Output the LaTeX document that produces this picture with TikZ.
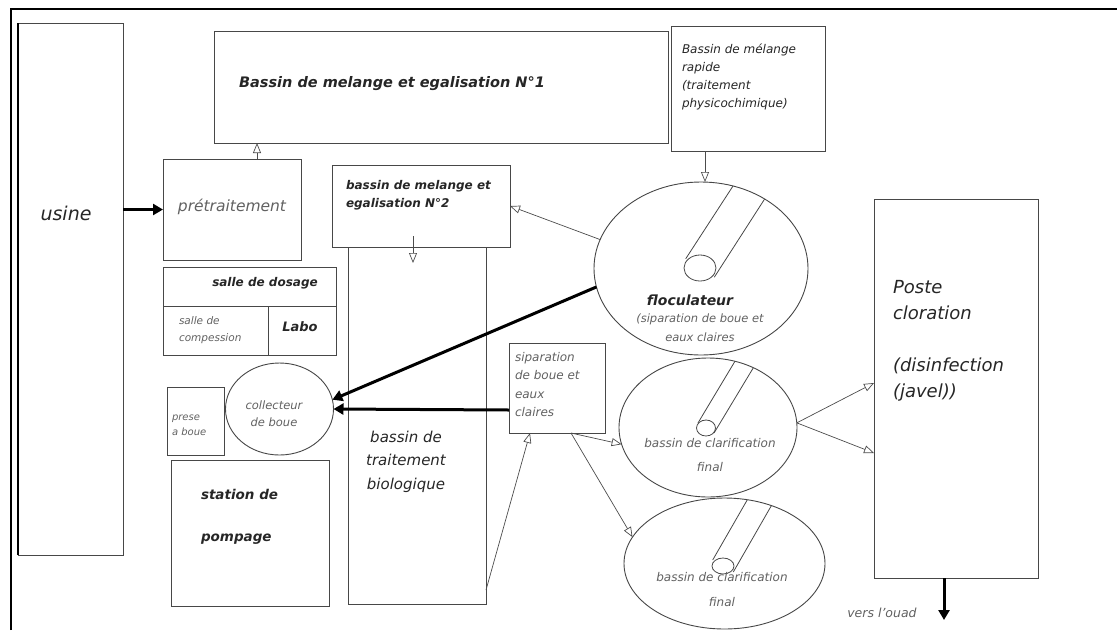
\documentclass[tikz,border=0pt]{standalone}
\usepackage{fontspec}
\setmainfont{DejaVu Sans}
\usetikzlibrary{arrows.meta,shapes.geometric,calc}
\newcommand{\fsz}[2]{\fontsize{#1}{#2}\selectfont}

\begin{document}
\begin{tikzpicture}[x=1pt,y=-1pt,
  every node/.style={inner sep=0pt, outer sep=0pt},
  box/.style={draw=black!72, line width=1pt, rectangle},
  tank/.style={draw=black!72, line width=0.9pt, ellipse},
  pipe/.style={draw=black!72, line width=0.8pt},
  flow/.style={draw=black!70, line width=0.7pt, -{Triangle[open,length=10pt,width=8pt]}},
  heavy/.style={draw=black, line width=3pt, -{Triangle[length=10pt,width=11pt]}},
  dark/.style={text=black!85},
  light/.style={text=black!62},
]
\useasboundingbox (0,0) rectangle (1117,630);

% sheet border
\draw[black, line width=1.6pt] (11,630) -- (11,9) -- (1117,9);

% ---- buildings and basins ----
\node[box, minimum width=105pt, minimum height=532pt] (usine) at (70.5,289) {};
\draw[black, line width=1.6pt] (usine.south west) -- (usine.north west);
\node[box, minimum width=454pt, minimum height=112pt] (n1) at (441,87) {};
\node[box, minimum width=154pt, minimum height=125pt] (rapide) at (748,88.5) {};
\node[box, minimum width=138pt, minimum height=101pt] (pre) at (232,209.5) {};
\node[box, minimum width=178pt, minimum height=82pt] (n2) at (421,206) {};
\node[box, minimum width=138pt, minimum height=357pt] (bio) at (417,425.5) {};
\node[box, minimum width=173pt, minimum height=39pt] (dos) at (249.5,286.5) {};
\node[box, minimum width=105pt, minimum height=49pt] (comp) at (215.5,330.5) {};
\node[box, minimum width=68pt, minimum height=49pt] (labo) at (302,330.5) {};
\node[box, minimum width=57pt, minimum height=68pt] (presse) at (195.5,421) {};
\node[tank, minimum width=108pt, minimum height=92pt] (coll) at (279.5,409) {};
\node[box, minimum width=158pt, minimum height=146pt] (pompage) at (250,533) {};
\node[tank, minimum width=214pt, minimum height=173pt] (floc) at (701,268.5) {};
\node[box, minimum width=96pt, minimum height=90pt] (sep) at (557,388) {};
\node[tank, minimum width=178pt, minimum height=139pt] (clar1) at (708,427.5) {};
\node[tank, minimum width=201pt, minimum height=131pt] (clar2) at (724.5,563.5) {};
\node[box, minimum width=164pt, minimum height=379pt] (poste) at (956,388.5) {};

% ---- inlet pipes drawn inside the round tanks ----
\begin{scope}[shift={(floc.center)}]
  \draw[pipe] (-1,-0.5) ellipse [x radius=16, y radius=13];
  \draw[pipe] (-15.3,-9.7) -- (32,-82.5);
  \draw[pipe] (13.3,8.7) -- (63.5,-69.3);
\end{scope}
\begin{scope}[shift={(clar1.center)}]
  \draw[pipe] (-2,0.5) ellipse [x radius=9.5, y radius=8];
  \draw[pipe] (-10.1,-4.4) -- (27,-66.3);
  \draw[pipe] (6.1,5.4) -- (45.3,-59.7);
\end{scope}
\begin{scope}[shift={(clar2.center)}]
  \draw[pipe] (-1.5,2.5) ellipse [x radius=11, y radius=8];
  \draw[pipe] (-11.8,-3.5) -- (22.8,-63.7);
  \draw[pipe] (8.8,8.5) -- (46.9,-57.9);
\end{scope}

% ---- labels ----
\node[dark, font={\fsz{19}{22}\itshape}] (tusine) at (66,213) {usine};
\node[dark, font={\fsz{14.5}{17}\bfseries\itshape}] (tn1) at (392,84) {Bassin de melange et egalisation N°1};
\node[dark, anchor=west, align=left, font={\fsz{12}{18}\itshape}] (trapide) at (682,77)
  {Bassin de mélange\\rapide\\(traitement\\physicochimique)};
\node[light, font={\fsz{15.5}{18}\itshape}] (tpre) at (232,207) {prétraitement};
\node[dark, anchor=west, align=left, font={\fsz{12}{18}\bfseries\itshape}] (tn2) at (346,195)
  {bassin de melange et\\egalisation N°2};
\node[dark, align=center, font={\fsz{15}{23.5}\itshape}] (tbio) at (406,461.5)
  {bassin de\\traitement\\biologique};
\node[dark, font={\fsz{12}{14}\bfseries\itshape}] (tdos) at (265,283) {salle de dosage};
\node[light, anchor=west, align=left, font={\fsz{10.5}{17}\itshape}] (tcomp) at (179,330.5)
  {salle de\\compession};
\node[dark, font={\fsz{13}{15}\bfseries\itshape}] (tlabo) at (300,327) {Labo};
\node[light, anchor=west, align=left, font={\fsz{10}{15}\itshape}] (tpresse) at (172,425.5)
  {prese\\a boue};
\node[light, align=center, font={\fsz{11.5}{17}\itshape}] (tcoll) at (274,413.5)
  {collecteur\\de boue};
\node[dark, anchor=west, align=left, font={\fsz{13.5}{42}\bfseries\itshape}] (tpomp) at (201,517)
  {station de\\pompage};
\node[dark, font={\fsz{14}{16}\bfseries\itshape}] (tfloc) at (690,300) {floculateur};
\node[light, align=center, font={\fsz{11.5}{19}\itshape}] (tfloc2) at (700,327.5)
  {(siparation de boue et\\eaux claires};
\node[light, anchor=west, align=left, font={\fsz{12}{18.5}\itshape}] (tsep) at (515,384.5)
  {siparation\\de boue et\\eaux\\claires};
\node[light, align=center, font={\fsz{12}{24}\itshape}] (tclar1) at (710,455)
  {bassin de clarification\\final};
\node[light, align=center, font={\fsz{12}{25}\itshape}] (tclar2) at (722,589.5)
  {bassin de clarification\\final};
\node[dark, anchor=west, align=left, font={\fsz{18}{26}\itshape}] (tposte) at (893,340.5)
  {Poste\\cloration\\[26pt](disinfection\\(javel))};
\node[light, font={\fsz{12.5}{14}\itshape}] (touad) at (882,613) {vers l'ouad};

% ---- flows ----
\draw[heavy] (usine.east |- pre.west) -- (pre.west);
\draw[flow] ([xshift=25pt]pre.north) -- ([xshift=25pt]pre.north |- n1.south);
\draw[flow] ([xshift=-8pt,yshift=11pt]n2.south) -- ([xshift=-8pt,yshift=-16pt]n2.south);
\draw[flow] ([xshift=-43pt]rapide.south) -- ([xshift=-43pt]rapide.south |- floc.north);
\draw[flow] (floc.164) -- (n2.east);
\draw[heavy] (floc.190) -- (coll.10);
\draw[heavy] ([yshift=-22pt]sep.west) -- (coll.east);
\draw[flow] ([yshift=14pt]bio.south east) -- ([xshift=-27pt]sep.south);
\draw[flow] ([xshift=14pt]sep.south) -- (clar1.191);
\draw[flow] ([xshift=14pt]sep.south) -- (clar2.164);
\draw[flow] (clar1.3) -- ([yshift=5.5pt]poste.west);
\draw[flow] (clar1.3) -- ([yshift=-64.5pt]poste.west);
\coordinate (oued) at (944,620);
\draw[heavy] ([xshift=-12pt]poste.south) -- (oued);
\end{tikzpicture}
\end{document}
